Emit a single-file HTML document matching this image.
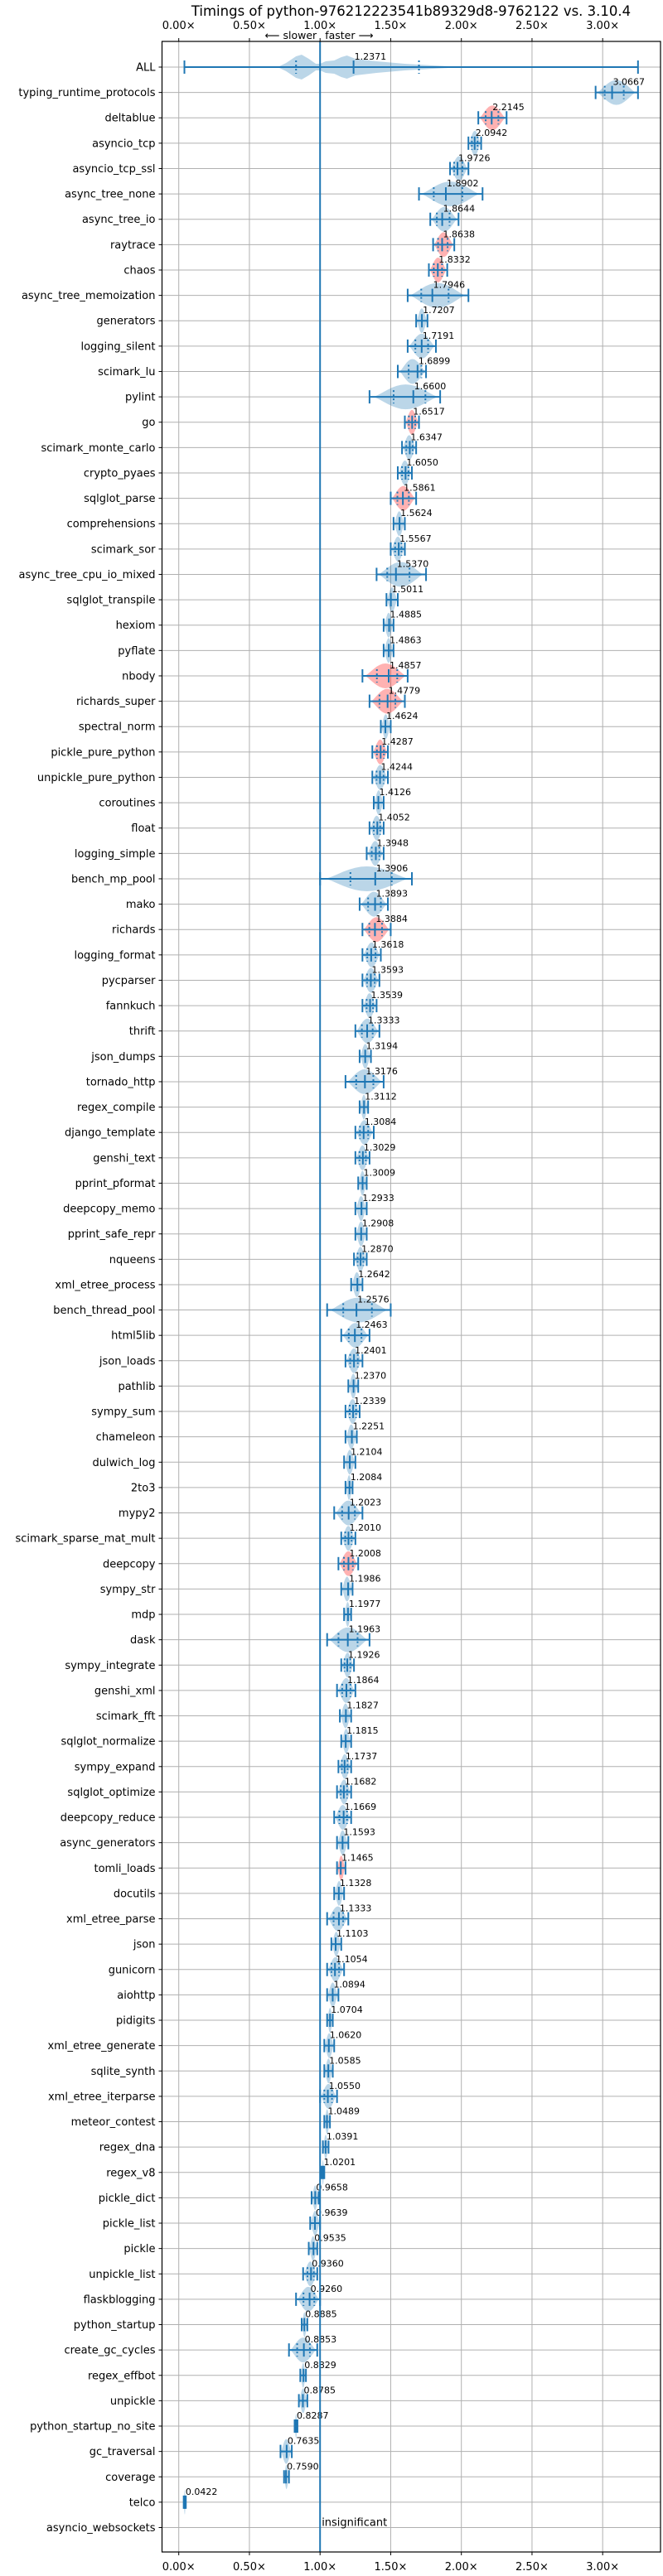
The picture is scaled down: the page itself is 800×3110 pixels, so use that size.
<!DOCTYPE html>
<html><head><meta charset="utf-8"><style>
html,body{margin:0;padding:0;background:#fff;}
svg{display:block;font-family:"DejaVu Sans","Liberation Sans",sans-serif;}
</style></head><body>
<svg id="chart" width="800" height="3110" viewBox="0 0 800 3110" xmlns="http://www.w3.org/2000/svg">
<text x="496" y="19" font-size="16.5" text-anchor="middle" fill="#000">Timings of python-976212223541b89329d8-9762122 vs. 3.10.4</text>
<g id="grid"></g>
<g id="marks"></g>
<g id="axes"></g>
</svg>
<script>
const names = ["ALL","typing_runtime_protocols","deltablue","asyncio_tcp","asyncio_tcp_ssl","async_tree_none","async_tree_io","raytrace","chaos","async_tree_memoization","generators","logging_silent","scimark_lu","pylint","go","scimark_monte_carlo","crypto_pyaes","sqlglot_parse","comprehensions","scimark_sor","async_tree_cpu_io_mixed","sqlglot_transpile","hexiom","pyflate","nbody","richards_super","spectral_norm","pickle_pure_python","unpickle_pure_python","coroutines","float","logging_simple","bench_mp_pool","mako","richards","logging_format","pycparser","fannkuch","thrift","json_dumps","tornado_http","regex_compile","django_template","genshi_text","pprint_pformat","deepcopy_memo","pprint_safe_repr","nqueens","xml_etree_process","bench_thread_pool","html5lib","json_loads","pathlib","sympy_sum","chameleon","dulwich_log","2to3","mypy2","scimark_sparse_mat_mult","deepcopy","sympy_str","mdp","dask","sympy_integrate","genshi_xml","scimark_fft","sqlglot_normalize","sympy_expand","sqlglot_optimize","deepcopy_reduce","async_generators","tomli_loads","docutils","xml_etree_parse","json","gunicorn","aiohttp","pidigits","xml_etree_generate","sqlite_synth","xml_etree_iterparse","meteor_contest","regex_dna","regex_v8","pickle_dict","pickle_list","pickle","unpickle_list","flaskblogging","python_startup","create_gc_cycles","regex_effbot","unpickle","python_startup_no_site","gc_traversal","coverage","telco","asyncio_websockets"];
const medians = [1.2371,3.0667,2.2145,2.0942,1.9726,1.8902,1.8644,1.8638,1.8332,1.7946,1.7207,1.7191,1.6899,1.6600,1.6517,1.6347,1.6050,1.5861,1.5624,1.5567,1.5370,1.5011,1.4885,1.4863,1.4857,1.4779,1.4624,1.4287,1.4244,1.4126,1.4052,1.3948,1.3906,1.3893,1.3884,1.3618,1.3593,1.3539,1.3333,1.3194,1.3176,1.3112,1.3084,1.3029,1.3009,1.2933,1.2908,1.2870,1.2642,1.2576,1.2463,1.2401,1.2370,1.2339,1.2251,1.2104,1.2084,1.2023,1.2010,1.2008,1.1986,1.1977,1.1963,1.1926,1.1864,1.1827,1.1815,1.1737,1.1682,1.1669,1.1593,1.1465,1.1328,1.1333,1.1103,1.1054,1.0894,1.0704,1.0620,1.0585,1.0550,1.0489,1.0391,1.0201,0.9658,0.9639,0.9535,0.9360,0.9260,0.8885,0.8853,0.8829,0.8785,0.8287,0.7635,0.7590,0.0422,null];
const lows = [0.04,2.95,2.12,2.05,1.92,1.70,1.78,1.80,1.77,1.62,1.68,1.62,1.55,1.35,1.60,1.58,1.55,1.50,1.52,1.50,1.40,1.47,1.45,1.45,1.30,1.35,1.43,1.37,1.37,1.38,1.35,1.33,1.00,1.28,1.30,1.30,1.30,1.30,1.25,1.28,1.18,1.28,1.25,1.25,1.27,1.25,1.25,1.24,1.22,1.05,1.15,1.18,1.20,1.18,1.18,1.17,1.18,1.10,1.15,1.13,1.15,1.17,1.05,1.15,1.12,1.14,1.15,1.13,1.12,1.10,1.12,1.12,1.10,1.05,1.08,1.05,1.05,1.05,1.03,1.03,1.00,1.03,1.02,1.01,0.94,0.93,0.92,0.88,0.83,0.87,0.78,0.86,0.85,0.82,0.72,0.745,0.035,null];
const highs = [3.25,3.25,2.32,2.14,2.05,2.15,1.98,1.95,1.90,2.05,1.76,1.82,1.75,1.85,1.70,1.68,1.65,1.68,1.60,1.60,1.75,1.55,1.52,1.52,1.62,1.60,1.50,1.48,1.48,1.45,1.45,1.45,1.65,1.48,1.50,1.43,1.42,1.40,1.42,1.36,1.45,1.34,1.38,1.35,1.33,1.33,1.33,1.33,1.30,1.50,1.35,1.30,1.27,1.28,1.26,1.25,1.23,1.30,1.25,1.27,1.23,1.22,1.35,1.24,1.25,1.22,1.22,1.22,1.22,1.22,1.20,1.18,1.17,1.20,1.15,1.17,1.13,1.09,1.10,1.09,1.12,1.07,1.06,1.03,0.99,1.00,0.98,0.98,1.00,0.91,0.98,0.90,0.91,0.84,0.80,0.78,0.05,null];
const redRows = ["deltablue","raytrace","chaos","go","sqlglot_parse","nbody","richards_super","pickle_pure_python","richards","deepcopy","tomli_loads"];
const xTicks = [0,0.5,1,1.5,2,2.5,3];
const allProfile = [[0.70,0],[0.76,5],[0.83,13],[0.87,15],[0.92,10],[0.97,4],[1.0,4],[1.04,7],[1.10,8],[1.15,12],[1.19,14],[1.25,10],[1.4,7],[1.6,4],[1.8,2],[2.02,0]];

const NS="http://www.w3.org/2000/svg";
const L=195.5,R=797,T=50,B=3081;
const x0=215.7, pxPerUnit=170.5;
function xs(v){return x0+v*pxPerUnit;}
const rowStep=(3051.5-81)/(names.length-1);
function ys(i){return 81+i*rowStep;}
function mk(tag,attrs,parent){const e=document.createElementNS(NS,tag);for(const k in attrs)e.setAttribute(k,attrs[k]);parent.appendChild(e);return e;}
const grid=document.getElementById('grid'),marks=document.getElementById('marks'),axes=document.getElementById('axes');
const BLUE="#1f77b4";

xTicks.forEach(function(t){
  const g=mk('line',{x1:xs(t),x2:xs(t),y1:T,y2:B,stroke:'#b0b0b0','stroke-width':1},grid);
  
  
  const lab=t.toFixed(2)+'×';
  const tt=mk('text',{x:xs(t),y:35,'font-size':13,'text-anchor':'middle',fill:'#000'},axes);tt.textContent=lab;
  
  
  const tb=mk('text',{x:xs(t),y:3103,'font-size':13,'text-anchor':'middle',fill:'#000'},axes);tb.textContent=lab;
  
  
  mk('line',{x1:xs(t),x2:xs(t),y1:T-4,y2:T,stroke:'#000','stroke-width':1},axes);
  mk('line',{x1:xs(t),x2:xs(t),y1:B,y2:B+4,stroke:'#000','stroke-width':1},axes);
});
names.forEach(function(n,i){
  const y=ys(i);
  const gl=mk('line',{x1:L,x2:R,y1:y,y2:y,stroke:'#b0b0b0','stroke-width':1},grid);
  
  
  mk('line',{x1:L-4,x2:L,y1:y,y2:y,stroke:'#000','stroke-width':1},axes);
  const lt=mk('text',{x:L-8,y:y+4.5,'font-size':13,'text-anchor':'end',fill:'#000'},axes);lt.textContent=n;
  
  
});

function violinPath(profile,y){
  let top='',bot='';
  profile.forEach(function(p,k){top+=(k?'L':'M')+xs(p[0]).toFixed(1)+','+(y-p[1]).toFixed(1);});
  for(let k=profile.length-1;k>=0;k--){const p=profile[k];bot+='L'+xs(p[0]).toFixed(1)+','+(y+p[1]).toFixed(1);}
  return top+bot+'Z';
}
names.forEach(function(n,i){
  const m=medians[i];
  if(m===null)return;
  const y=ys(i),lo=lows[i],hi=highs[i];
  const red=redRows.indexOf(n)>=0;
  let prof;
  if(i===0){prof=allProfile;}
  else{
    const a=Math.max(lo,m-(m-lo)*0.9),b=Math.min(hi,m+(hi-m)*0.9);
    prof=[];const N=14;
    for(let k=0;k<=N;k++){const t=k/N;prof.push([a+(b-a)*t,15*Math.pow(Math.sin(Math.PI*t),1.2)]);}
  }
  const v=mk('path',{d:violinPath(prof,y),fill:red?'#ff0000':BLUE,'fill-opacity':red?0.3:0.3,stroke:'none'},marks);
  
  
  const w=mk('line',{x1:xs(lo),x2:xs(hi),y1:y,y2:y,stroke:BLUE,'stroke-width':2},marks);
  
  
  [lo,hi,m].forEach(function(v2){mk('line',{x1:xs(v2),x2:xs(v2),y1:y-8,y2:y+8,stroke:BLUE,'stroke-width':2},marks);});
  let q1=i===0?0.83:lo+(m-lo)*0.55,q3=i===0?1.70:m+(hi-m)*0.45;
  if(xs(hi)-xs(lo)>14){[q1,q3].forEach(function(q){mk('line',{x1:xs(q),x2:xs(q),y1:y-8,y2:y+8,stroke:BLUE,'stroke-width':2,'stroke-dasharray':'2,3'},marks);});}
  const at=mk('text',{x:xs(m)+1,y:y-9,'font-size':11,fill:'#000'},marks);at.textContent=m.toFixed(4);
  
  
});
// insignificant
(function(){const i=names.length-1,y=ys(i);
  const t=mk('text',{x:xs(1)+2,y:y-2,'font-size':13,fill:'#000'},marks);t.textContent='insignificant';
  
  
})();
const ref=mk('line',{x1:xs(1),x2:xs(1),y1:T,y2:B,stroke:BLUE,'stroke-width':2},marks);


const sl=mk('text',{x:xs(1)-4,y:47,'font-size':12.5,'text-anchor':'end',fill:'#000'},axes);sl.textContent='⟵ slower';


const fl=mk('text',{x:xs(1)+6,y:47,'font-size':12.5,fill:'#000'},axes);fl.textContent='faster ⟶';


const fr=mk('rect',{x:L,y:T,width:R-L,height:B-T,fill:'none',stroke:'#000','stroke-width':1.2},axes);


</script>
</body></html>
